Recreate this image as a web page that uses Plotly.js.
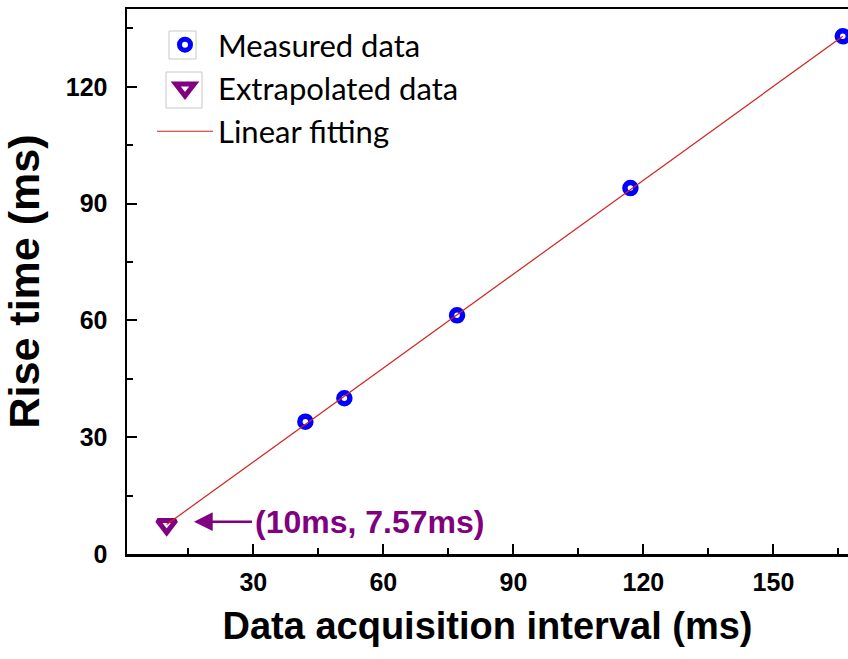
<!DOCTYPE html>
<html>
<head>
<meta charset="utf-8">
<script src="https://cdn.plot.ly/plotly-3.0.1.min.js"></script>
<style>
  html, body { margin: 0; padding: 0; background: #fff; }
  #chart { width: 848px; height: 659px; }
</style>
</head>
<body>
<div id="chart"></div>
<script>
// Measured rise time versus data acquisition interval
const measuredInterval = [42, 51, 77, 117, 166];
const measuredRise = [34, 40, 61.3, 94, 133];

// Extrapolated point at the shortest interval
const extrapInterval = [10];
const extrapRise = [7.57];

// End points of the linear fit
const fitInterval = [10, 166];
const fitRise = [7.57, 133.0];

const xTickVals = [30, 60, 90, 120, 150];
const yTickVals = [0, 30, 60, 90, 120];

const W = 848, H = 659;
const M = { l: 127, r: 0, t: 9, b: 105 };
const plotW = W - M.l - M.r, plotH = H - M.t - M.b;
// pixel -> paper helpers for the legend symbol frames
const px = v => (v - M.l) / plotW;
const py = v => (H - M.b - v) / plotH;

const traces = [
  {
    x: measuredInterval, y: measuredRise, name: 'Measured data',
    type: 'scatter', mode: 'markers', cliponaxis: false,
    marker: { symbol: 'circle-open', size: 11, color: '#0000ff', line: { width: 5.5, color: '#0000ff' } }
  },
  {
    x: extrapInterval, y: extrapRise, name: 'Extrapolated data',
    type: 'scatter', mode: 'markers', cliponaxis: false,
    marker: { symbol: 'triangle-down-open', size: 16, color: '#800080', line: { width: 5, color: '#800080' } }
  },
  {
    x: fitInterval, y: fitRise, name: 'Linear fitting',
    type: 'scatter', mode: 'lines',
    line: { color: '#d42020', width: 1.2 }
  }
];

const axisCommon = {
  showgrid: false, zeroline: false,
  showline: true, linecolor: '#000', linewidth: 2.5,
  ticks: 'inside', ticklen: 10, tickwidth: 2, tickcolor: '#000',
  tickfont: { family: 'Arial, Liberation Sans, sans-serif', size: 25, color: '#000', weight: 'bold' },
  minor: { ticks: 'inside', ticklen: 6, tickwidth: 2, tickcolor: '#000', dtick: 15 }
};

const layout = {
  width: W, height: H,
  margin: M,
  paper_bgcolor: '#fff', plot_bgcolor: '#fff',
  showlegend: true,
  legend: {
    x: px(152), y: py(18), xanchor: 'left', yanchor: 'top',
    bgcolor: 'rgba(0,0,0,0)', itemwidth: 56,
    font: { family: 'Lato, Noto Sans, sans-serif', size: 31, color: '#000' },
    tracegroupgap: 0
  },
  xaxis: Object.assign({}, axisCommon, {
    range: [0.85, 167.2], tickmode: 'array', tickvals: xTickVals,
    mirror: true, ticklabelstandoff: 4,
    minor: Object.assign({}, axisCommon.minor, { tick0: 0 }),
    title: { text: 'Data acquisition interval (ms)', standoff: 18,
      font: { family: 'Arial, Liberation Sans, sans-serif', size: 38, color: '#000', weight: 'bold' } }
  }),
  yaxis: Object.assign({}, axisCommon, {
    range: [0, 140], tickmode: 'array', tickvals: yTickVals,
    ticklabelstandoff: 12,
    minor: Object.assign({}, axisCommon.minor, { tick0: 0 }),
    title: { text: 'Rise time (ms)', standoff: 14,
      font: { family: 'Arial, Liberation Sans, sans-serif', size: 43, color: '#000', weight: 'bold' } }
  }),
  annotations: [
    {
      x: 16.3, y: 8.3, xref: 'x', yref: 'y',
      ax: 176, ay: 0, axref: 'pixel', ayref: 'pixel',
      text: '(10ms, 7.57ms)', showarrow: true, standoff: 0, startstandoff: 2,
      arrowhead: 2, arrowsize: 1.5, arrowwidth: 2.5, arrowcolor: '#800080',
      font: { family: 'Arial, Liberation Sans, sans-serif', size: 32, color: '#800080', weight: 'bold' }
    }
  ],
  // light frames around the legend symbols
  shapes: [
    { type: 'rect', xref: 'paper', yref: 'paper', x0: px(169), x1: px(196), y0: py(59), y1: py(31),
      line: { color: '#c8c8c8', width: 1 } },
    { type: 'rect', xref: 'paper', yref: 'paper', x0: px(166), x1: px(202), y0: py(108), y1: py(72),
      line: { color: '#c8c8c8', width: 1 } }
  ]
};

Plotly.newPlot('chart', traces, layout, { staticPlot: true, displayModeBar: false });
</script>
</body>
</html>
